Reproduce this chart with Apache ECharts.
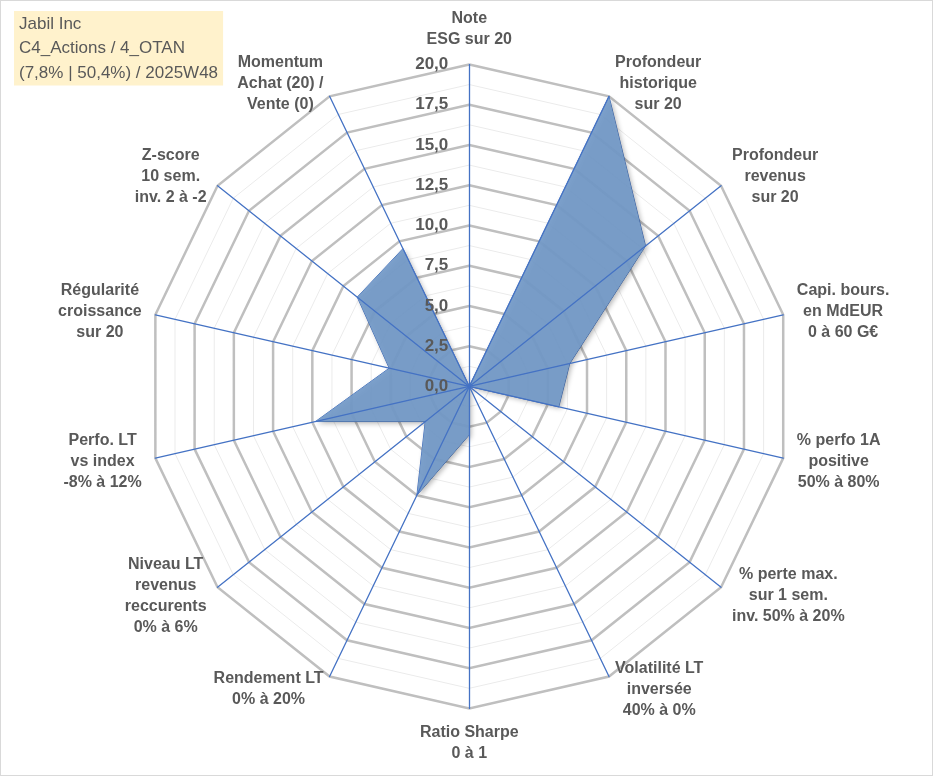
<!DOCTYPE html>
<html>
<head>
<meta charset="utf-8">
<style type="text/css">
html, body { margin: 0; padding: 0; background: #FFFFFF; }
#chart { width: 933px; height: 776px; box-sizing: border-box; border: 1px solid #D9D9D9; }
</style>
<script src="https://cdn.jsdelivr.net/npm/echarts@6/dist/echarts.min.js"></script>
</head>
<body>
<div id="chart"></div>
<script type="text/javascript">
// axes, clockwise from the top
var axisNames = [
    'Note\nESG sur 20',
    'Profondeur\nhistorique\nsur 20',
    'Profondeur\nrevenus\nsur 20',
    'Capi. bours.\nen MdEUR\n0 à 60 G€',
    '% perfo 1A\npositive\n50% à 80%',
    '% perte max.\nsur 1 sem.\ninv. 50% à 20%',
    'Volatilité LT\ninversée\n40% à 0%',
    'Ratio Sharpe\n0 à 1',
    'Rendement LT\n0% à 20%',
    'Niveau LT\nrevenus\nreccurents\n0% à 6%',
    'Perfo. LT\nvs index\n-8% à 12%',
    'Régularité\ncroissance\nsur 20',
    'Z-score\n10 sem.\ninv. 2 à -2',
    'Momentum\nAchat (20) /\nVente (0)'
];
var scores = [0, 20, 14, 6.4, 5.7, 0, 0, 3, 7.5, 3.5, 9.8, 5.1, 8.9, 9.5];
var axisMax = 20;
var majorSplits = 8;   // 2,5 en 2,5
var minorSplits = 16;

var titleLines = ['Jabil Inc', 'C4_Actions / 4_OTAN', '(7,8% | 50,4%) / 2025W48'];

var txt = '#595959';
var font = 'Liberation Sans, Arial, sans-serif';

// echarts tourne dans le sens anti-horaire : on inverse (sauf le premier)
function ccw(arr) {
    return [arr[0]].concat(arr.slice(1).reverse());
}
var names = ccw(axisNames);
var values = ccw(scores);

function indicators(withLabel) {
    return names.map(function (n, i) {
        var ind = { name: n, min: 0, max: axisMax };
        if (withLabel && i === 0) {
            ind.axisLabel = {
                show: true,
                color: txt,
                fontFamily: font,
                fontWeight: 'bold',
                fontSize: 17,
                margin: 21,
                formatter: function (v) { return v.toFixed(1).replace('.', ','); }
            };
        }
        return ind;
    });
}

var center = ['50.3%', '49.8%'];
var radius = 322;

var myChart = echarts.init(document.getElementById('chart'));
var option = {
    animation: false,
    title: {
        text: titleLines.join('\n'),
        left: 13,
        top: 10,
        padding: [1, 5, 0, 5],
        backgroundColor: '#FFF2CC',
        textStyle: {
            fontFamily: font,
            fontSize: 17,
            fontWeight: 'normal',
            color: txt,
            lineHeight: 24.5
        }
    },
    radar: [
        {   // grille secondaire
            center: center, radius: radius, startAngle: 90, shape: 'polygon',
            splitNumber: minorSplits,
            indicator: indicators(false),
            axisName: { show: false },
            axisLine: { show: false },
            splitArea: { show: false },
            splitLine: { lineStyle: { color: '#EBEBEB', width: 1 } }
        },
        {   // grille principale + libellés
            center: center, radius: radius, startAngle: 90, shape: 'polygon',
            splitNumber: majorSplits,
            indicator: indicators(false),
            nameGap: 14,
            axisName: {
                formatter: function (n) {
                    return n.split('\n').map(function (l) { return '{a|' + l + '}'; }).join('\n');
                },
                rich: {
                    a: {
                        align: 'center',
                        color: txt,
                        fontFamily: font,
                        fontWeight: 'bold',
                        fontSize: 16,
                        lineHeight: 21
                    }
                }
            },
            axisLine: { show: false },
            splitArea: { show: false },
            splitLine: { lineStyle: { color: '#BFBFBF', width: 2.5 } }
        },
        {   // axes bleus au-dessus de la surface
            center: center, radius: radius, startAngle: 90, shape: 'polygon',
            splitNumber: majorSplits,
            indicator: indicators(true),
            z: 5,
            axisName: { show: false },
            axisLine: { lineStyle: { color: '#4472C4', width: 1.3 } },
            splitArea: { show: false },
            splitLine: { show: false }
        }
    ],
    series: [
        {
            type: 'radar',
            radarIndex: 1,
            z: 3,
            symbol: 'none',
            lineStyle: { color: '#4472C4', width: 1 },
            areaStyle: {
                color: '#749AC8',
                opacity: 0.94,
                shadowBlur: 5,
                shadowColor: 'rgba(0,0,0,0.3)',
                shadowOffsetX: 2,
                shadowOffsetY: 2
            },
            data: [{ value: values, name: 'Jabil Inc' }]
        }
    ]
};
myChart.setOption(option);
</script>
</body>
</html>
